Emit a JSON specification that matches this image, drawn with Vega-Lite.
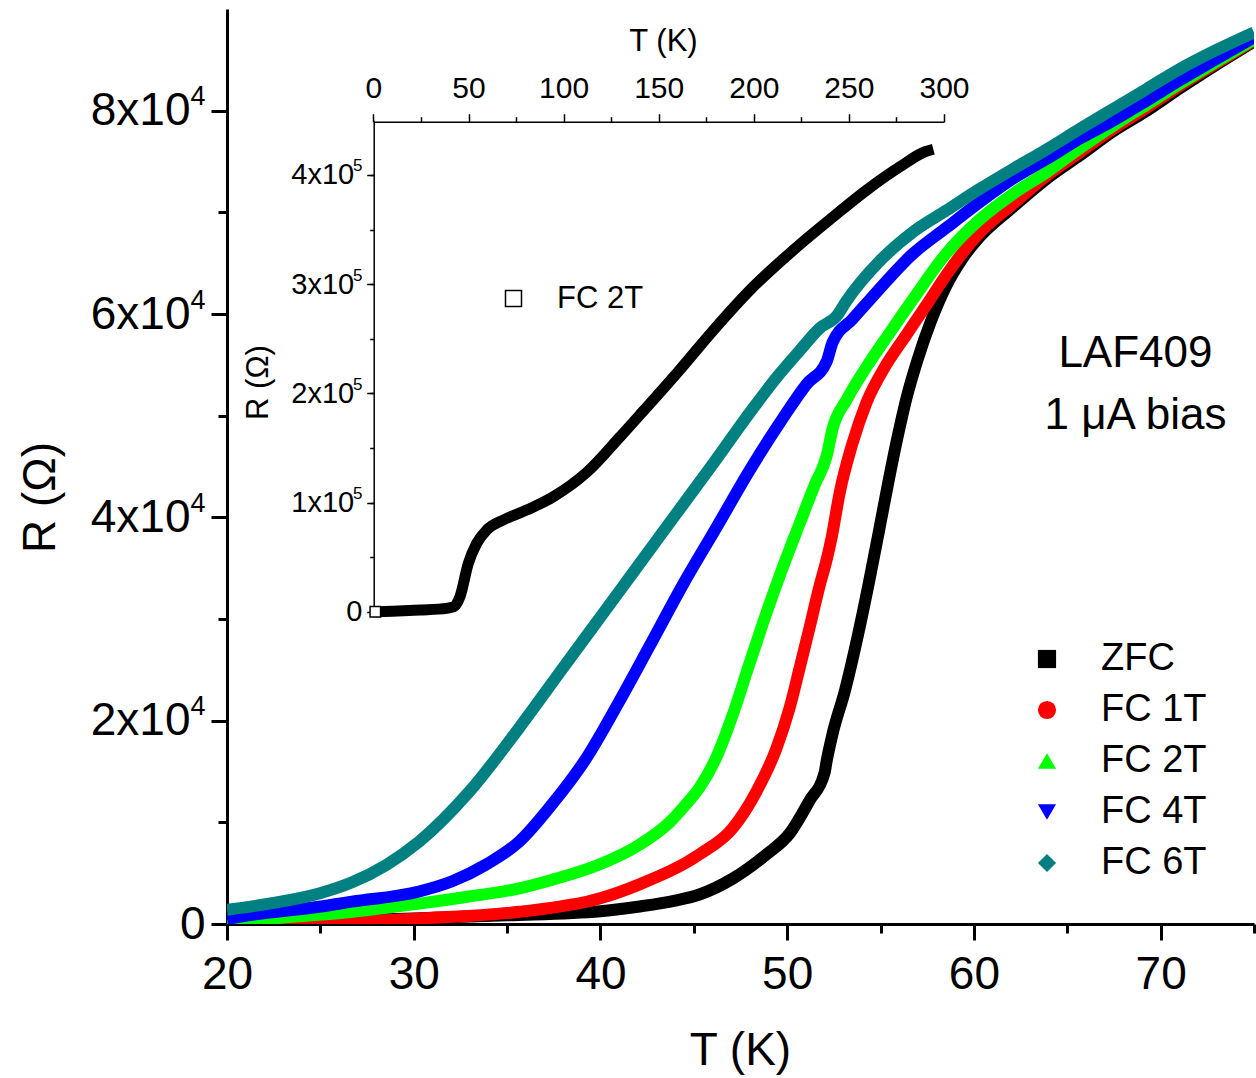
{
  "$schema": "https://vega.github.io/schema/vega-lite/v6.json",
  "width": 1027,
  "height": 915,
  "autosize": {"type": "none"},
  "padding": {"left": 227, "top": 9, "right": 2, "bottom": 154},
  "background": "white",
  "config": {
    "font": "Liberation Sans",
    "view": {"stroke": null},
    "axis": {"grid": false, "labelColor": "black", "titleColor": "black", "tickColor": "black", "domainColor": "black", "titleFontWeight": "normal", "labelFlush": false, "labelOverlap": false}
  },
  "datasets": {
    "main": [
      {"s": "ZFC", "T": 20, "R": 100}, {"s": "ZFC", "T": 25, "R": 300}, {"s": "ZFC", "T": 30, "R": 550}, {"s": "ZFC", "T": 35, "R": 850}, {"s": "ZFC", "T": 40, "R": 1250}, {"s": "ZFC", "T": 42, "R": 1700}, {"s": "ZFC", "T": 44, "R": 2300}, {"s": "ZFC", "T": 45.3, "R": 2900}, {"s": "ZFC", "T": 47.07, "R": 4450}, {"s": "ZFC", "T": 48.89, "R": 6850}, {"s": "ZFC", "T": 50.13, "R": 8900}, {"s": "ZFC", "T": 51.2, "R": 12150}, {"s": "ZFC", "T": 52.0, "R": 14850}, {"s": "ZFC", "T": 52.11, "R": 16000}, {"s": "ZFC", "T": 52.43, "R": 18700}, {"s": "ZFC", "T": 53.1, "R": 23000}, {"s": "ZFC", "T": 53.8, "R": 28500}, {"s": "ZFC", "T": 54.4, "R": 33800}, {"s": "ZFC", "T": 54.9, "R": 38500}, {"s": "ZFC", "T": 55.4, "R": 43300}, {"s": "ZFC", "T": 55.9, "R": 47800}, {"s": "ZFC", "T": 56.4, "R": 51800}, {"s": "ZFC", "T": 57.0, "R": 55600}, {"s": "ZFC", "T": 57.7, "R": 59300}, {"s": "ZFC", "T": 58.5, "R": 62700}, {"s": "ZFC", "T": 59.4, "R": 65500}, {"s": "ZFC", "T": 60.31, "R": 67600}, {"s": "ZFC", "T": 62.08, "R": 70500}, {"s": "ZFC", "T": 63.9, "R": 73300}, {"s": "ZFC", "T": 65.67, "R": 75600}, {"s": "ZFC", "T": 67.44, "R": 77950}, {"s": "ZFC", "T": 69.26, "R": 80000}, {"s": "ZFC", "T": 71.03, "R": 82200}, {"s": "ZFC", "T": 72.8, "R": 84300}, {"s": "ZFC", "T": 75, "R": 86800},
      {"s": "FC 1T", "T": 20, "R": 50}, {"s": "FC 1T", "T": 24.9, "R": 150}, {"s": "FC 1T", "T": 30.3, "R": 550}, {"s": "FC 1T", "T": 35.65, "R": 1200}, {"s": "FC 1T", "T": 39.94, "R": 2500}, {"s": "FC 1T", "T": 42.09, "R": 3900}, {"s": "FC 1T", "T": 45.3, "R": 6850}, {"s": "FC 1T", "T": 47.07, "R": 9400}, {"s": "FC 1T", "T": 48.36, "R": 13050}, {"s": "FC 1T", "T": 49.43, "R": 17300}, {"s": "FC 1T", "T": 50.13, "R": 21250}, {"s": "FC 1T", "T": 50.67, "R": 25200}, {"s": "FC 1T", "T": 51.2, "R": 29150}, {"s": "FC 1T", "T": 51.74, "R": 33300}, {"s": "FC 1T", "T": 52.11, "R": 35800}, {"s": "FC 1T", "T": 52.38, "R": 38000}, {"s": "FC 1T", "T": 52.81, "R": 42400}, {"s": "FC 1T", "T": 53.5, "R": 47300}, {"s": "FC 1T", "T": 54.25, "R": 51300}, {"s": "FC 1T", "T": 55.3, "R": 55000}, {"s": "FC 1T", "T": 56.4, "R": 58000}, {"s": "FC 1T", "T": 57.5, "R": 61000}, {"s": "FC 1T", "T": 58.54, "R": 63900}, {"s": "FC 1T", "T": 60.31, "R": 68000}, {"s": "FC 1T", "T": 62.08, "R": 70800}, {"s": "FC 1T", "T": 63.9, "R": 73600}, {"s": "FC 1T", "T": 65.67, "R": 75900}, {"s": "FC 1T", "T": 67.44, "R": 78200}, {"s": "FC 1T", "T": 69.26, "R": 80300}, {"s": "FC 1T", "T": 71.03, "R": 82450}, {"s": "FC 1T", "T": 72.8, "R": 84450}, {"s": "FC 1T", "T": 75, "R": 86900},
      {"s": "FC 2T", "T": 20, "R": 200}, {"s": "FC 2T", "T": 21.34, "R": 400}, {"s": "FC 2T", "T": 24.93, "R": 900}, {"s": "FC 2T", "T": 26.7, "R": 1200}, {"s": "FC 2T", "T": 30.29, "R": 2000}, {"s": "FC 2T", "T": 32.97, "R": 2700}, {"s": "FC 2T", "T": 35.65, "R": 3500}, {"s": "FC 2T", "T": 37.42, "R": 4350}, {"s": "FC 2T", "T": 39.94, "R": 5850}, {"s": "FC 2T", "T": 42.09, "R": 7800}, {"s": "FC 2T", "T": 43.7, "R": 10000}, {"s": "FC 2T", "T": 44.5, "R": 11600}, {"s": "FC 2T", "T": 45.3, "R": 13400}, {"s": "FC 2T", "T": 46.21, "R": 16400}, {"s": "FC 2T", "T": 47.07, "R": 20500}, {"s": "FC 2T", "T": 47.98, "R": 25600}, {"s": "FC 2T", "T": 48.89, "R": 30600}, {"s": "FC 2T", "T": 49.75, "R": 35000}, {"s": "FC 2T", "T": 50.67, "R": 39400}, {"s": "FC 2T", "T": 51.5, "R": 43300}, {"s": "FC 2T", "T": 52.11, "R": 46000}, {"s": "FC 2T", "T": 52.43, "R": 48700}, {"s": "FC 2T", "T": 53.18, "R": 51550}, {"s": "FC 2T", "T": 54.25, "R": 54800}, {"s": "FC 2T", "T": 55.49, "R": 58150}, {"s": "FC 2T", "T": 56.72, "R": 61400}, {"s": "FC 2T", "T": 58.54, "R": 66000}, {"s": "FC 2T", "T": 60.31, "R": 69300}, {"s": "FC 2T", "T": 62.08, "R": 71800}, {"s": "FC 2T", "T": 63.9, "R": 73950}, {"s": "FC 2T", "T": 65.67, "R": 76300}, {"s": "FC 2T", "T": 67.44, "R": 78500}, {"s": "FC 2T", "T": 69.26, "R": 80600}, {"s": "FC 2T", "T": 71.03, "R": 82650}, {"s": "FC 2T", "T": 72.8, "R": 84600}, {"s": "FC 2T", "T": 75, "R": 87000},
      {"s": "FC 4T", "T": 20, "R": 500}, {"s": "FC 4T", "T": 21.34, "R": 900}, {"s": "FC 4T", "T": 24.93, "R": 1700}, {"s": "FC 4T", "T": 26.7, "R": 2200}, {"s": "FC 4T", "T": 30.29, "R": 3200}, {"s": "FC 4T", "T": 32.06, "R": 4200}, {"s": "FC 4T", "T": 33.88, "R": 5850}, {"s": "FC 4T", "T": 35.65, "R": 8100}, {"s": "FC 4T", "T": 37.42, "R": 11800}, {"s": "FC 4T", "T": 39.24, "R": 16300}, {"s": "FC 4T", "T": 41.01, "R": 21900}, {"s": "FC 4T", "T": 42.62, "R": 27300}, {"s": "FC 4T", "T": 44.39, "R": 33300}, {"s": "FC 4T", "T": 46.21, "R": 39000}, {"s": "FC 4T", "T": 47.98, "R": 44600}, {"s": "FC 4T", "T": 49.75, "R": 49700}, {"s": "FC 4T", "T": 51.04, "R": 53100}, {"s": "FC 4T", "T": 52.11, "R": 55300}, {"s": "FC 4T", "T": 52.43, "R": 57200}, {"s": "FC 4T", "T": 53.5, "R": 59500}, {"s": "FC 4T", "T": 54.57, "R": 61700}, {"s": "FC 4T", "T": 56.72, "R": 65900}, {"s": "FC 4T", "T": 58.54, "R": 68500}, {"s": "FC 4T", "T": 60.31, "R": 71000}, {"s": "FC 4T", "T": 62.08, "R": 73300}, {"s": "FC 4T", "T": 63.9, "R": 75250}, {"s": "FC 4T", "T": 65.67, "R": 77250}, {"s": "FC 4T", "T": 67.44, "R": 79000}, {"s": "FC 4T", "T": 69.26, "R": 81000}, {"s": "FC 4T", "T": 71.03, "R": 83000}, {"s": "FC 4T", "T": 72.8, "R": 84900}, {"s": "FC 4T", "T": 75, "R": 87200},
      {"s": "FC 6T", "T": 20, "R": 1400}, {"s": "FC 6T", "T": 22.25, "R": 2000}, {"s": "FC 6T", "T": 24.93, "R": 3000}, {"s": "FC 6T", "T": 26.7, "R": 4100}, {"s": "FC 6T", "T": 28.52, "R": 5800}, {"s": "FC 6T", "T": 30.29, "R": 8100}, {"s": "FC 6T", "T": 32.97, "R": 13000}, {"s": "FC 6T", "T": 35.65, "R": 19300}, {"s": "FC 6T", "T": 38, "R": 25200}, {"s": "FC 6T", "T": 40, "R": 30200}, {"s": "FC 6T", "T": 42, "R": 35200}, {"s": "FC 6T", "T": 44, "R": 40200}, {"s": "FC 6T", "T": 46, "R": 45200}, {"s": "FC 6T", "T": 48, "R": 50300}, {"s": "FC 6T", "T": 49.5, "R": 53900}, {"s": "FC 6T", "T": 50.67, "R": 56400}, {"s": "FC 6T", "T": 51.74, "R": 58600}, {"s": "FC 6T", "T": 52.65, "R": 59800}, {"s": "FC 6T", "T": 53.18, "R": 61300}, {"s": "FC 6T", "T": 54.95, "R": 65200}, {"s": "FC 6T", "T": 56.72, "R": 68050}, {"s": "FC 6T", "T": 58.54, "R": 70200}, {"s": "FC 6T", "T": 60.31, "R": 72300}, {"s": "FC 6T", "T": 62.08, "R": 74250}, {"s": "FC 6T", "T": 63.9, "R": 76200}, {"s": "FC 6T", "T": 65.67, "R": 78200}, {"s": "FC 6T", "T": 67.44, "R": 80150}, {"s": "FC 6T", "T": 69.26, "R": 82150}, {"s": "FC 6T", "T": 71.03, "R": 84100}, {"s": "FC 6T", "T": 72.8, "R": 85800}, {"s": "FC 6T", "T": 75, "R": 87700}
    ],
    "inset": [
      {"s": "FC 2T", "T": 1, "R": 0}, {"s": "FC 2T", "T": 10, "R": 500}, {"s": "FC 2T", "T": 24.5, "R": 1600}, {"s": "FC 2T", "T": 38.5, "R": 3100}, {"s": "FC 2T", "T": 42.2, "R": 4500}, {"s": "FC 2T", "T": 45.5, "R": 13700}, {"s": "FC 2T", "T": 49.9, "R": 44300}, {"s": "FC 2T", "T": 54.3, "R": 62600}, {"s": "FC 2T", "T": 59.6, "R": 74800}, {"s": "FC 2T", "T": 68.3, "R": 84000}, {"s": "FC 2T", "T": 80.6, "R": 93100}, {"s": "FC 2T", "T": 94.6, "R": 105300}, {"s": "FC 2T", "T": 112.2, "R": 127700}, {"s": "FC 2T", "T": 129.6, "R": 160000}, {"s": "FC 2T", "T": 140.2, "R": 180500}, {"s": "FC 2T", "T": 161.3, "R": 222000}, {"s": "FC 2T", "T": 178.7, "R": 257700}, {"s": "FC 2T", "T": 198, "R": 294500}, {"s": "FC 2T", "T": 220.8, "R": 331200}, {"s": "FC 2T", "T": 241.8, "R": 361700}, {"s": "FC 2T", "T": 259.4, "R": 386200}, {"s": "FC 2T", "T": 276.9, "R": 407500}, {"s": "FC 2T", "T": 290, "R": 421200}, {"s": "FC 2T", "T": 294.4, "R": 423500}
    ],
    "notes": [
      {"T": 68.65, "R": 56060, "label": "LAF409"},
      {"T": 68.65, "R": 49970, "label": "1 μA bias"}
    ]
  },
  "layer": [
    {
      "layer": [
        {
          "data": {"name": "main"},
          "mark": {"type": "line", "clip": true, "interpolate": "monotone"},
          "encoding": {
            "x": {"field": "T", "type": "quantitative", "scale": {"domain": [20, 75], "nice": false, "zero": false},
              "axis": {"orient": "bottom", "values": [20, 30, 40, 50, 60, 70], "tickSize": 16, "tickWidth": 3, "domainWidth": 3, "labelFontSize": 46, "labelPadding": 12, "title": "T (K)", "titleFontSize": 46, "titleX": 513, "titleY": 126, "titleAlign": "center", "titleBaseline": "middle"}},
            "y": {"field": "R", "type": "quantitative", "scale": {"domain": [0, 90000], "nice": false, "zero": false},
              "axis": {"orient": "left", "values": [0, 20000, 40000, 60000, 80000], "tickSize": 16, "tickWidth": 3, "domainWidth": 3, "labelFontSize": 46, "labelPadding": 21, "labelExpr": "datum.value === 0 ? '' : (datum.value / 10000) + 'x10'", "title": "R (Ω)", "titleFontSize": 46, "titleAngle": 270, "titleX": -187, "titleY": 488, "titleAlign": "center", "titleBaseline": "middle"}},
            "strokeWidth": {"field": "s", "type": "nominal", "scale": {"domain": ["ZFC", "FC 1T", "FC 2T", "FC 4T", "FC 6T"], "range": [12, 12, 12, 13, 16]}, "legend": null},
            "color": {"field": "s", "type": "nominal",
              "scale": {"domain": ["ZFC", "FC 1T", "FC 2T", "FC 4T", "FC 6T"], "range": ["#000000", "#ff0000", "#00ff00", "#0000ff", "#008080"]},
              "legend": {"orient": "none", "legendX": 801, "legendY": 631, "title": null, "labelFontSize": 38, "labelColor": "black", "symbolSize": 330, "rowPadding": 13, "labelOffset": 35, "symbolType": "square",
                "encode": {"symbols": {"update": {
                  "shape": {"signal": "datum.value === 'ZFC' ? 'square' : datum.value === 'FC 1T' ? 'circle' : datum.value === 'FC 2T' ? 'triangle-up' : datum.value === 'FC 4T' ? 'triangle-down' : 'diamond'"},
                  "fill": {"signal": "datum.value === 'ZFC' ? '#000000' : datum.value === 'FC 1T' ? '#ff0000' : datum.value === 'FC 2T' ? '#00ff00' : datum.value === 'FC 4T' ? '#0000ff' : '#008080'"},
                  "strokeWidth": {"value": 0},
                  "opacity": {"value": 1}
                }}}}}
          }
        },
        {
          "data": {"name": "notes"},
          "mark": {"type": "text", "fontSize": 44, "align": "center", "baseline": "middle", "color": "black"},
          "encoding": {
            "x": {"field": "T", "type": "quantitative",
              "axis": {"orient": "bottom", "values": [25, 35, 45, 55, 65, 75], "tickSize": 9, "tickWidth": 3, "labels": false, "domain": false, "title": null}},
            "y": {"field": "R", "type": "quantitative",
              "axis": {"orient": "left", "values": [0, 10000, 20000, 30000, 40000, 50000, 60000, 70000, 80000], "tickSize": 9, "tickWidth": 3, "labelPadding": 13, "domain": false, "title": null,
                "labelFontSize": {"condition": {"test": "datum.value === 0", "value": 46}, "value": 27},
                "labelOffset": {"condition": {"test": "datum.value === 0", "value": 0}, "value": -14},
                "labelExpr": "datum.value === 0 ? '0' : (datum.value % 20000 === 0 ? '4' : '')",
                "encode": {"ticks": {"update": {"x2": {"signal": "datum.value % 20000 === 0 ? 0 : -9"}}}}}},
            "text": {"field": "label"}
          }
        }
      ],
      "resolve": {"axis": {"x": "independent", "y": "independent"}}
    },
    {
      "layer": [
        {
          "data": {"name": "inset"},
          "mark": {"type": "line", "strokeWidth": 11, "color": "black", "interpolate": "monotone"},
          "encoding": {
            "x": {"field": "T", "type": "quantitative", "scale": {"domain": [0, 300], "range": [146.4, 717], "nice": false, "zero": false},
              "axis": {"orient": "top", "offset": -112.7, "values": [0, 50, 100, 150, 200, 250, 300], "tickSize": 8, "tickWidth": 1.5, "domainWidth": 1.5, "labelFontSize": 30, "labelPadding": 10, "title": "T (K)", "titleFontSize": 31, "titleX": 436, "titleY": -80, "titleAlign": "center", "titleBaseline": "middle"}},
            "y": {"field": "R", "type": "quantitative", "scale": {"domain": [-4000, 450000], "range": [607.1, 111.3], "nice": false, "zero": false},
              "axis": {"orient": "left", "offset": -146.7, "values": [0, 100000, 200000, 300000, 400000], "tickSize": 7, "tickWidth": 1.5, "domainWidth": 1.5, "labelFontSize": 29, "labelPadding": 13, "labelExpr": "datum.value === 0 ? '' : (datum.value / 100000) + 'x10'", "title": "R (Ω)", "titleFontSize": 31, "titleAngle": 270, "titleX": -115, "titleY": 373, "titleAlign": "center", "titleBaseline": "middle"}},
            "color": {"field": "s", "type": "nominal", "scale": {"domain": ["FC 2T"], "range": ["#000000"]},
              "legend": {"orient": "none", "legendX": 271, "legendY": 274, "title": null, "labelFontSize": 31, "labelColor": "black", "symbolSize": 256, "labelOffset": 28, "symbolType": "square",
                "encode": {"symbols": {"update": {"shape": {"value": "square"}, "fill": {"value": "white"}, "stroke": {"value": "black"}, "strokeWidth": {"value": 1.5}, "opacity": {"value": 1}}}}}}
          }
        },
        {
          "data": {"name": "inset"},
          "transform": [{"filter": "datum.T < 2"}],
          "mark": {"type": "point", "shape": "square", "size": 110, "filled": true, "fill": "white", "stroke": "black", "strokeWidth": 1.5, "opacity": 1},
          "encoding": {
            "x": {"field": "T", "type": "quantitative",
              "axis": {"orient": "top", "offset": -112.7, "values": [25, 75, 125, 175, 225, 275], "tickSize": 5, "tickWidth": 1.5, "labels": false, "domain": false, "title": null}},
            "y": {"field": "R", "type": "quantitative",
              "axis": {"orient": "left", "offset": -146.7, "values": [0, 50000, 100000, 150000, 200000, 250000, 300000, 350000, 400000], "tickSize": 4, "tickWidth": 1.5, "labelPadding": 7.7, "domain": false, "title": null,
                "labelFontSize": {"condition": {"test": "datum.value === 0", "value": 29}, "value": 17},
                "labelOffset": {"condition": {"test": "datum.value === 0", "value": 0}, "value": -9},
                "labelExpr": "datum.value === 0 ? '0' : (datum.value % 100000 === 0 ? '5' : '')",
                "encode": {"ticks": {"update": {"x2": {"signal": "datum.value % 100000 === 0 ? 0 : -4"}}}}}}
          }
        }
      ],
      "resolve": {"axis": {"x": "independent", "y": "independent"}}
    }
  ],
  "resolve": {"scale": {"x": "independent", "y": "independent", "color": "independent"}, "axis": {"x": "independent", "y": "independent"}, "legend": {"color": "independent"}}
}
